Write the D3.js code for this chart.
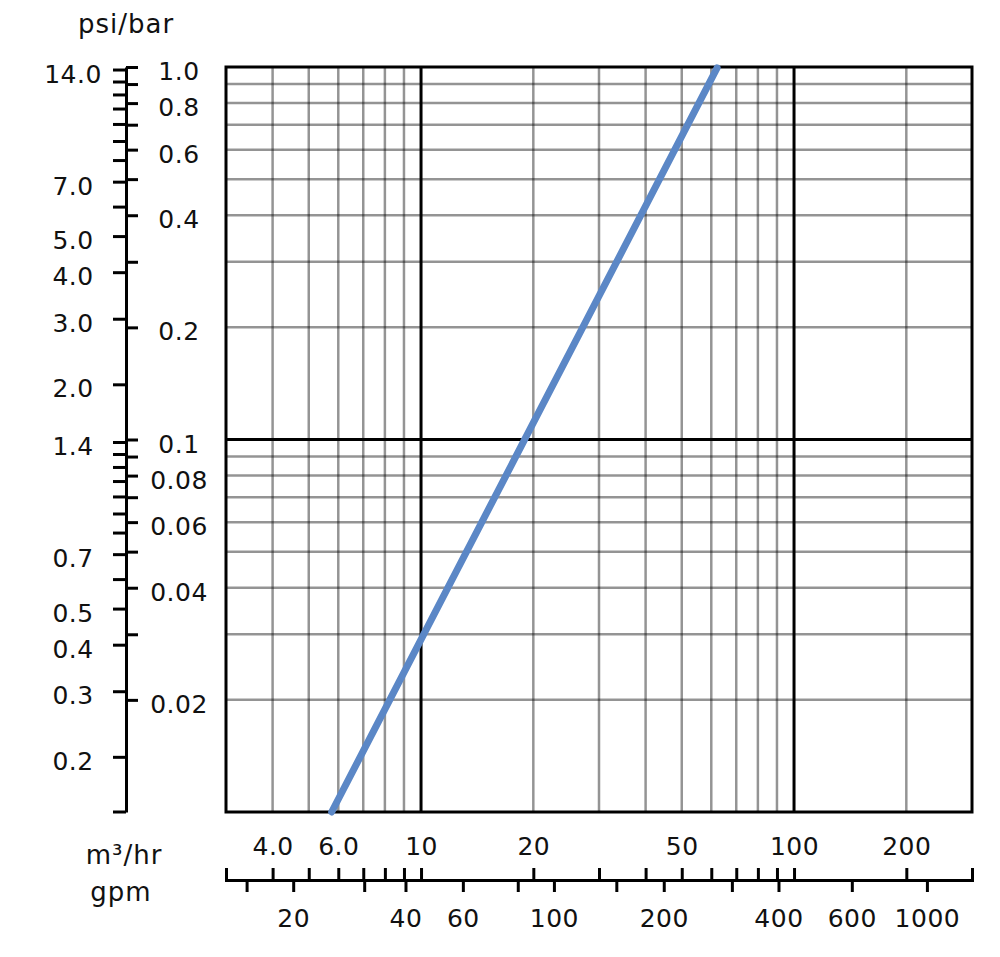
<!DOCTYPE html>
<html>
<head>
<meta charset="utf-8">
<script src="https://cdn.jsdelivr.net/npm/d3@7"></script>
<style>
  body { margin: 0; background: #fff; }
  text { font-family: "DejaVu Sans", sans-serif; fill: #111; }
</style>
</head>
<body>
<div id="main"></div>
<script>
// flow in m3/hr vs pressure drop in bar (log-log)
const curve = [[5.76, 0.01], [62.2, 0.994]]

const flowDomain = [3, 300]
const barDomain = [0.01, 1]
const psiPerBar = 14.22
const gpmPerM3 = 4.403

const flowGrid = [4, 5, 6, 7, 8, 9, 20, 30, 40, 50, 60, 70, 80, 90, 200]
const flowMajor = [10, 100]
const barGrid = [0.02, 0.03, 0.04, 0.05, 0.06, 0.07, 0.08, 0.09, 0.2, 0.3, 0.4, 0.5, 0.6, 0.7, 0.8, 0.9]
const barMajor = [0.1]

const barTicks = [0.02, 0.03, 0.04, 0.05, 0.06, 0.07, 0.08, 0.09, 0.1, 0.2, 0.3, 0.4, 0.5, 0.6, 0.7, 0.8, 0.9, 1]
const barLabels = { 1: "1.0", 0.8: "0.8", 0.6: "0.6", 0.4: "0.4", 0.2: "0.2", 0.1: "0.1", 0.08: "0.08", 0.06: "0.06", 0.04: "0.04", 0.02: "0.02" }

const psiTicks = [14, 13, 12, 11, 10, 9, 8, 7, 6, 5, 4, 3, 2, 1.4, 1.3, 1.2, 1.1, 1.0, 0.9, 0.8, 0.7, 0.6, 0.5, 0.4, 0.3, 0.2]
const psiLabels = { 14: "14.0", 7: "7.0", 5: "5.0", 4: "4.0", 3: "3.0", 2: "2.0", 1.4: "1.4", 0.7: "0.7", 0.5: "0.5", 0.4: "0.4", 0.3: "0.3", 0.2: "0.2" }

const flowTicks = [4, 5, 6, 7, 8, 9, 10, 20, 30, 40, 50, 60, 70, 80, 90, 100, 200]
const flowLabels = { 4: "4.0", 6: "6.0", 10: "10", 20: "20", 50: "50", 100: "100", 200: "200" }

const gpmTicks = [15, 20, 31, 40, 57, 80, 100, 147, 197, 300, 400, 629, 1000]
const gpmLabels = ["", "20", "", "40", "60", "", "100", "", "200", "", "400", "600", "1000"]

let width = 1000,
    height = 957

const svg = d3.select("div#main")
    .append("svg")
    .attr("width", width)
    .attr("height", height)

const x = d3.scaleLog().domain(flowDomain).range([226, 972])
const y = d3.scaleLog().domain(barDomain).range([812, 67])
const psi = d3.scaleLog().domain(barDomain.map(d => d * psiPerBar)).range(y.range())
const gpm = d3.scaleLog().domain(flowDomain.map(d => d * gpmPerM3)).range(x.range())

const [x0, x1] = x.range()
const [yb, yt] = y.range()

// grid
const grid = svg.append("g")
grid.selectAll(".vg").data(flowGrid).join("line")
    .attr("x1", d => x(d)).attr("x2", d => x(d))
    .attr("y1", yt).attr("y2", yb)
    .attr("stroke", "#000").attr("stroke-opacity", 0.42).attr("stroke-width", 2.5)
grid.selectAll(".hg").data(barGrid).join("line")
    .attr("y1", d => y(d)).attr("y2", d => y(d))
    .attr("x1", x0).attr("x2", x1)
    .attr("stroke", "#000").attr("stroke-opacity", 0.42).attr("stroke-width", 2.5)
grid.selectAll(".vm").data(flowMajor).join("line")
    .attr("x1", d => x(d)).attr("x2", d => x(d))
    .attr("y1", yt).attr("y2", yb)
    .attr("stroke", "#000").attr("stroke-width", 3)
grid.selectAll(".hm").data(barMajor).join("line")
    .attr("y1", d => y(d)).attr("y2", d => y(d))
    .attr("x1", x0).attr("x2", x1)
    .attr("stroke", "#000").attr("stroke-width", 3)

svg.append("rect")
    .attr("x", x0).attr("y", yt)
    .attr("width", x1 - x0).attr("height", yb - yt)
    .attr("fill", "none").attr("stroke", "#000").attr("stroke-width", 3)

// curve
svg.append("path")
    .datum(curve)
    .attr("d", d3.line().x(d => x(d[0])).y(d => y(d[1])))
    .attr("fill", "none")
    .attr("stroke", "#5b87c6")
    .attr("stroke-width", 7)
    .attr("stroke-linecap", "round")

function styleAxis(g) {
    g.attr("font-size", 25).attr("font-family", null)
    g.selectAll("line").attr("stroke", "#000").attr("stroke-width", 3)
    g.selectAll("path").attr("stroke", "#000").attr("stroke-width", 3)
    g.selectAll("text").style("font-size", "25px").attr("letter-spacing", 0.5).attr("fill", "#111")
}

// left axes
const axisX = 126
svg.append("g")
    .attr("transform", `translate(${axisX},0)`)
    .call(d3.axisRight(y).tickValues(barTicks).tickSize(12).tickSizeOuter(0)
        .tickFormat(d => barLabels[d] || ""))
    .call(styleAxis)
    .call(g => g.selectAll("text").attr("text-anchor", "middle").attr("x", 53).attr("dy", "0.5em"))

svg.append("g")
    .attr("transform", `translate(${axisX},0)`)
    .call(d3.axisLeft(psi).tickValues(psiTicks).tickSize(13)
        .tickFormat(d => psiLabels[d] || ""))
    .call(g => g.select(".domain").remove())
    .call(styleAxis)
    .call(g => g.selectAll("text").attr("text-anchor", "middle").attr("x", -53).attr("dy", "0.5em"))

svg.append("line")
    .attr("x1", axisX - 13).attr("x2", axisX)
    .attr("y1", yb).attr("y2", yb)
    .attr("stroke", "#000").attr("stroke-width", 3)

// bottom axes
const axisY = 880
svg.append("g")
    .attr("transform", `translate(0,${axisY})`)
    .call(d3.axisTop(x).tickValues(flowTicks).tickSize(12).tickPadding(13)
        .tickFormat(d => flowLabels[d] || ""))
    .call(styleAxis)

svg.append("g")
    .attr("transform", `translate(0,${axisY})`)
    .call(d3.axisBottom(gpm).tickValues(gpmTicks).tickSize(12)
        .tickFormat((d, i) => gpmLabels[i]))
    .call(g => g.select(".domain").remove())
    .call(styleAxis)
    .call(g => g.selectAll("text").attr("y", 29))

// titles
svg.append("text").attr("x", 126).attr("y", 33).attr("text-anchor", "middle")
    .style("font-size", "26px").attr("letter-spacing", 1).text("psi/bar")
svg.append("text").attr("x", 124).attr("y", 864).attr("text-anchor", "middle")
    .style("font-size", "26px").attr("letter-spacing", 1).text("m³/hr")
svg.append("text").attr("x", 121).attr("y", 901).attr("text-anchor", "middle")
    .style("font-size", "26px").attr("letter-spacing", 1).text("gpm")
</script>
</body>
</html>
